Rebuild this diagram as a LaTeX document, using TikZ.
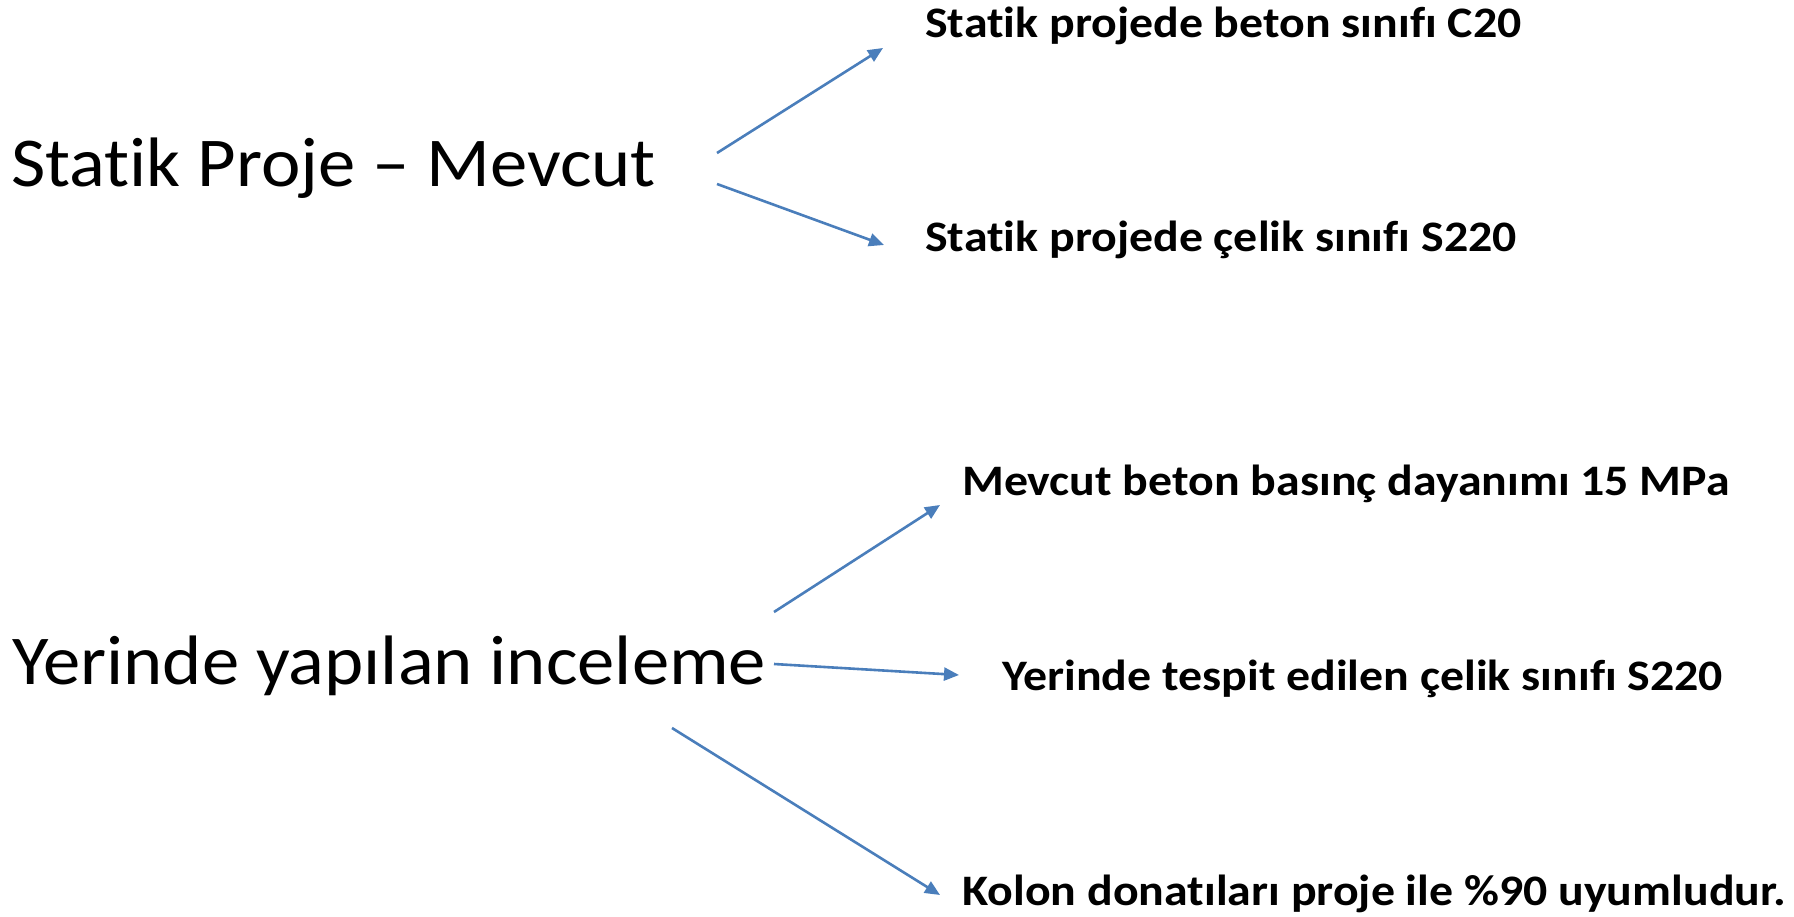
\documentclass[tikz,border=0pt]{standalone}
\usepackage{graphicx}
\usepackage{fontspec}
\setmainfont[Ligatures=NoCommon]{Carlito}
\usetikzlibrary{arrows.meta}
\definecolor{arrblue}{HTML}{4A7EBB}
\newcommand{\wideL}[1]{\scalebox{1.067}[1]{#1}}
\newcommand{\wideR}[1]{\scalebox{1.10}[1]{#1}}
\tikzset{
  bigtxt/.style={anchor=base west,inner sep=0pt,font=\fontsize{70}{84}\selectfont},
  smalltxt/.style={anchor=base west,inner sep=0pt,font=\fontsize{43.5}{52}\selectfont\bfseries},
  conn/.style={draw=arrblue,line width=2.6pt,-{Triangle[length=15pt,width=13pt]},fill=arrblue}
}
\begin{document}
\begin{tikzpicture}[x=1pt,y=-1pt]
\useasboundingbox (0,0) rectangle (1794,917);
\node[bigtxt] (sp) at (11,187) {\wideL{Statik Proje – Mevcut}};
\node[bigtxt] (yi) at (12,684) {\wideL{Yerinde yapılan inceleme}};
\node[smalltxt] (t1) at (925,38) {\wideR{Statik projede beton sınıfı C20}};
\node[smalltxt] (t2) at (925,252) {\wideR{Statik projede çelik sınıfı S220}};
\node[smalltxt] (t3) at (962,495) {\wideR{Mevcut beton basınç dayanımı 15 MPa}};
\node[smalltxt] (t4) at (1002,690) {\wideR{Yerinde tespit edilen çelik sınıfı S220}};
\node[smalltxt] (t5) at (962,905) {\wideR{Kolon donatıları proje ile \%90 uyumludur.}};
\coordinate (a1s) at (717,153);
\coordinate (a1e) at (883,48);
\coordinate (a2s) at (717,184);
\coordinate (a2e) at (884,245);
\coordinate (a3s) at (774,612);
\coordinate (a3e) at (940,505);
\coordinate (a4s) at (774,664);
\coordinate (a4e) at (959,675);
\coordinate (a5s) at (672,728);
\coordinate (a5e) at (940,895);
\draw[conn] (a1s) -- (a1e);
\draw[conn] (a2s) -- (a2e);
\draw[conn] (a3s) -- (a3e);
\draw[conn] (a4s) -- (a4e);
\draw[conn] (a5s) -- (a5e);
\end{tikzpicture}
\end{document}
